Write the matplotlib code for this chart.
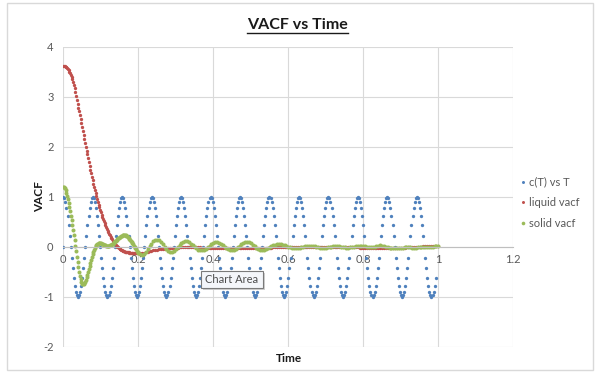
import numpy as np
import matplotlib
matplotlib.use("Agg")
import matplotlib.pyplot as plt
from matplotlib.patches import Rectangle
from matplotlib.lines import Line2D

# c(T) vs T: sampled every ct_step, first row of the sheet is (0, 0)
ct_step = 0.002805
ct_values = [0.0,
    1, 0.975, 0.901, 0.782, 0.623, 0.434, 0.223, 0, -0.223, -0.434, -0.623, -0.782, -0.901, -0.975,
    -1, -0.975, -0.901, -0.782, -0.623, -0.434, -0.223, 0, 0.223, 0.434, 0.623, 0.782, 0.901, 0.975,
    1, 0.975, 0.901, 0.782, 0.623, 0.434, 0.223, 0, -0.223, -0.434, -0.623, -0.782, -0.901, -0.975,
    -1, -0.975, -0.901, -0.782, -0.623, -0.434, -0.223, 0, 0.223, 0.434, 0.623, 0.782, 0.901, 0.975,
    1, 0.975, 0.901, 0.782, 0.623, 0.434, 0.223, 0, -0.223, -0.434, -0.623, -0.782, -0.901, -0.975,
    -1, -0.975, -0.901, -0.782, -0.623, -0.434, -0.223, 0, 0.223, 0.434, 0.623, 0.782, 0.901, 0.975,
    1, 0.975, 0.901, 0.782, 0.623, 0.434, 0.223, 0, -0.223, -0.434, -0.623, -0.782, -0.901, -0.975,
    -1, -0.975, -0.901, -0.782, -0.623, -0.434, -0.223, 0, 0.223, 0.434, 0.623, 0.782, 0.901, 0.975,
    1, 0.975, 0.901, 0.782, 0.623, 0.434, 0.223, 0, -0.223, -0.434, -0.623, -0.782, -0.901, -0.975,
    -1, -0.975, -0.901, -0.782, -0.623, -0.434, -0.223, 0, 0.223, 0.434, 0.623, 0.782, 0.901, 0.975,
    1, 0.975, 0.901, 0.782, 0.623, 0.434, 0.223, 0, -0.223, -0.434, -0.623, -0.782, -0.901, -0.975,
    -1, -0.975, -0.901, -0.782, -0.623, -0.434, -0.223, 0, 0.223, 0.434, 0.623, 0.782, 0.901, 0.975,
    1, 0.975, 0.901, 0.782, 0.623, 0.434, 0.223, 0, -0.223, -0.434, -0.623, -0.782, -0.901, -0.975,
    -1, -0.975, -0.901, -0.782, -0.623, -0.434, -0.223, 0, 0.223, 0.434, 0.623, 0.782, 0.901, 0.975,
    1, 0.975, 0.901, 0.782, 0.623, 0.434, 0.223, 0, -0.223, -0.434, -0.623, -0.782, -0.901, -0.975,
    -1, -0.975, -0.901, -0.782, -0.623, -0.434, -0.223, 0, 0.223, 0.434, 0.623, 0.782, 0.901, 0.975,
    1, 0.975, 0.901, 0.782, 0.623, 0.434, 0.223, 0, -0.223, -0.434, -0.623, -0.782, -0.901, -0.975,
    -1, -0.975, -0.901, -0.782, -0.623, -0.434, -0.223, 0, 0.223, 0.434, 0.623, 0.782, 0.901, 0.975,
    1, 0.975, 0.901, 0.782, 0.623, 0.434, 0.223, 0, -0.223, -0.434, -0.623, -0.782, -0.901, -0.975,
    -1, -0.975, -0.901, -0.782, -0.623, -0.434, -0.223, 0, 0.223, 0.434, 0.623, 0.782, 0.901, 0.975,
    1, 0.975, 0.901, 0.782, 0.623, 0.434, 0.223, 0, -0.223, -0.434, -0.623, -0.782, -0.901, -0.975,
    -1, -0.975, -0.901, -0.782, -0.623, -0.434, -0.223, 0, 0.223, 0.434, 0.623, 0.782, 0.901, 0.975,
    1, 0.975, 0.901, 0.782, 0.623, 0.434, 0.223, 0, -0.223, -0.434, -0.623, -0.782, -0.901, -0.975,
    -1, -0.975, -0.901, -0.782, -0.623, -0.434, -0.223, 0, 0.223, 0.434, 0.623, 0.782, 0.901, 0.975,
    1, 0.975, 0.901, 0.782, 0.623, 0.434, 0.223, 0, -0.223, -0.434, -0.623, -0.782, -0.901, -0.975,
    -1, -0.975, -0.901, -0.782, -0.623,
]

# vacf: dt = 0.002 up to 0.2, then dt = 0.005 up to 1.0
liquid_vacf = [
    3.62, 3.62, 3.61, 3.60, 3.59, 3.58, 3.56, 3.54, 3.50, 3.47,
    3.44, 3.40, 3.35, 3.30, 3.24, 3.17, 3.10, 3.02, 2.94, 2.86,
    2.78, 2.71, 2.63, 2.56, 2.48, 2.40, 2.32, 2.24, 2.16, 2.08,
    2.00, 1.92, 1.85, 1.77, 1.69, 1.62, 1.54, 1.47, 1.40, 1.33,
    1.26, 1.20, 1.13, 1.07, 1.01, 0.96, 0.90, 0.84, 0.79, 0.74,
    0.69, 0.64, 0.60, 0.55, 0.51, 0.47, 0.43, 0.39, 0.36, 0.32,
    0.29, 0.26, 0.23, 0.20, 0.17, 0.15, 0.12, 0.10, 0.08, 0.06,
    0.04, 0.02, 0.00, -0.01, -0.03, -0.04, -0.05, -0.06, -0.07, -0.08,
    -0.09, -0.09, -0.10, -0.10, -0.11, -0.11, -0.11, -0.11, -0.12, -0.12,
    -0.12, -0.12, -0.12, -0.12, -0.13, -0.13, -0.13, -0.13, -0.13, -0.13,
    # t >= 0.2
    -0.13, -0.13, -0.12, -0.12, -0.11, -0.10, -0.09, -0.08, -0.07, -0.07,
    -0.06, -0.05, -0.05, -0.04, -0.04, -0.03, -0.03, -0.03, -0.02, -0.02,
    -0.02, -0.02, -0.01, -0.01, -0.01, -0.01, -0.01, -0.01, -0.01, -0.01,
    -0.01, -0.01, -0.01, -0.01, -0.02, -0.02, -0.02, -0.02, -0.02, -0.02,
    -0.02, -0.02, -0.02, -0.02, -0.02, -0.02, -0.02, -0.02, -0.02, -0.02,
    -0.02, -0.02, -0.02, -0.02, -0.02, -0.02, -0.02, -0.02, -0.02, -0.02,
    -0.02, -0.02, -0.02, -0.02, -0.02, -0.02, -0.02, -0.02, -0.02, -0.02,
    -0.02, -0.02, -0.01, -0.01, -0.01, -0.01, -0.01, -0.01, -0.01, -0.01,
    -0.01, -0.01, -0.01, -0.01, -0.01, -0.01, -0.01, -0.01, 0.00, 0.00,
    0.00, 0.00, 0.00, 0.00, -0.01, -0.01, -0.01, -0.01, -0.01, -0.01,
    -0.01, -0.01, -0.01, -0.01, -0.01, -0.01, -0.01, -0.01, -0.01, -0.01,
    -0.01, -0.01, -0.01, -0.01, -0.01, -0.01, -0.01, -0.01, -0.02, -0.02,
    -0.02, -0.02, -0.02, -0.02, -0.02, -0.02, -0.02, -0.02, -0.02, -0.02,
    -0.02, -0.02, -0.02, -0.02, -0.03, -0.03, -0.03, -0.03, -0.02, -0.02,
    -0.02, -0.02, -0.02, -0.01, -0.01, -0.01, -0.01, -0.01, -0.01, 0.00,
    0.00, 0.00, 0.01, 0.01, 0.01, 0.01, 0.02, 0.02, 0.02, 0.02,
    0.02,
]

solid_vacf = [
    1.20, 1.19, 1.17, 1.13, 1.08, 1.02, 0.95, 0.88, 0.80, 0.71,
    0.62, 0.53, 0.43, 0.33, 0.23, 0.13, 0.02, -0.09, -0.20, -0.31,
    -0.41, -0.50, -0.58, -0.65, -0.70, -0.74, -0.75, -0.75, -0.73, -0.70,
    -0.66, -0.61, -0.56, -0.50, -0.44, -0.38, -0.32, -0.26, -0.20, -0.15,
    -0.10, -0.06, -0.02, 0.01, 0.03, 0.05, 0.06, 0.07, 0.07, 0.07,
    0.07, 0.06, 0.06, 0.05, 0.04, 0.03, 0.03, 0.02, 0.02, 0.02,
    0.02, 0.02, 0.03, 0.03, 0.04, 0.05, 0.06, 0.08, 0.09, 0.11,
    0.12, 0.14, 0.15, 0.17, 0.18, 0.19, 0.20, 0.21, 0.22, 0.23,
    0.23, 0.23, 0.23, 0.23, 0.22, 0.21, 0.20, 0.18, 0.16, 0.14,
    0.12, 0.10, 0.07, 0.05, 0.02, 0.00, -0.03, -0.05, -0.08, -0.10,
    # t >= 0.2
    -0.12, -0.15, -0.16, -0.15, -0.11, -0.05, 0.01, 0.06, 0.11, 0.13,
    0.14, 0.13, 0.10, 0.05, 0.00, -0.05, -0.08, -0.10, -0.10, -0.08,
    -0.05, -0.01, 0.03, 0.07, 0.10, 0.11, 0.11, 0.09, 0.06, 0.03,
    0.00, -0.03, -0.06, -0.07, -0.07, -0.06, -0.04, -0.01, 0.02, 0.05,
    0.07, 0.09, 0.09, 0.08, 0.06, 0.03, 0.00, -0.03, -0.05, -0.07,
    -0.07, -0.06, -0.04, -0.01, 0.02, 0.05, 0.08, 0.10, 0.10, 0.09,
    0.07, 0.04, 0.01, -0.02, -0.04, -0.06, -0.06, -0.06, -0.05, -0.03,
    -0.01, 0.01, 0.03, 0.04, 0.05, 0.05, 0.05, 0.04, 0.03, 0.02,
    0.00, -0.01, -0.02, -0.03, -0.03, -0.03, -0.02, -0.01, 0.00, 0.01,
    0.02, 0.02, 0.02, 0.02, 0.01, 0.00, -0.01, -0.02, -0.02, -0.02,
    -0.02, -0.01, 0.00, 0.00, 0.01, 0.01, 0.01, 0.01, 0.00, -0.01,
    -0.01, -0.02, -0.02, -0.01, -0.01, 0.00, 0.01, 0.01, 0.02, 0.02,
    0.02, 0.01, 0.00, -0.01, -0.01, -0.01, 0.00, 0.01, 0.02, 0.03,
    0.02, 0.01, 0.00, -0.01, -0.02, -0.03, -0.03, -0.03, -0.02, -0.02,
    -0.02, -0.02, -0.01, -0.01, -0.01, -0.01, -0.02, -0.02, -0.02, -0.01,
    -0.01, 0.00, 0.00, 0.00, 0.00, 0.00, 0.00, 0.00, 0.01, 0.01,
    0.01,
]

x_ticks = [0, 0.2, 0.4, 0.6, 0.8, 1, 1.2]
x_tick_labels = ["0", "0.2", "0.4", "0.6", "0.8", "1", "1.2"]
y_ticks = [-2, -1, 0, 1, 2, 3, 4]
y_tick_labels = ["-2", "-1", "0", "1", "2", "3", "4"]
series_names = ["c(T) vs T", "liquid vacf", "solid vacf"]

ct_time = np.concatenate([[0.0], np.arange(len(ct_values) - 1) * ct_step])
vacf_time = np.concatenate([np.arange(100) * 0.002, 0.2 + np.arange(161) * 0.005])

plt.rcParams["font.family"] = ["Lato", "DejaVu Sans"]

W, H = 600, 376
fig = plt.figure(figsize=(6, 3.76), dpi=100)
fig.patch.set_facecolor("white")
ax = fig.add_axes([63.3 / W, 1 - 346.7 / H, 450 / W, 300 / H])

ax.plot(ct_time, ct_values, "o", ms=2.4, mew=0, color="#4F81BD", label=series_names[0])
ax.plot(vacf_time, liquid_vacf, "o", ms=2.4, mew=0, color="#C0504D", label=series_names[1])
ax.plot(vacf_time, solid_vacf, "o", ms=2.9, mew=0, color="#9BBB59", label=series_names[2])

ax.set_xlim(0, 1.2)
ax.set_ylim(-2, 4)
ax.set_xticks(x_ticks)
ax.set_xticklabels(x_tick_labels)
ax.set_yticks(y_ticks)
ax.set_yticklabels(y_tick_labels)
ax.grid(True, color="#d9d9d9", lw=0.8)
ax.set_axisbelow(True)
for s in ["top", "right", "left"]:
    ax.spines[s].set_visible(False)
ax.spines["bottom"].set_position(("data", 0))
ax.spines["bottom"].set_color("#bfbfbf")
ax.spines["bottom"].set_linewidth(0.8)
ax.tick_params(length=0, labelsize=8, labelcolor="#595959")
ax.tick_params(axis="x", pad=5.5)
ax.tick_params(axis="y", pad=7)

ax.legend(loc="center left", bbox_to_anchor=(511 / W, 1 - 202.7 / H),
          bbox_transform=fig.transFigure, frameon=False, fontsize=8,
          handlelength=0.3, handletextpad=0.45, labelspacing=0.85,
          markerscale=0.9, labelcolor="#595959")

title = fig.text(297.5 / W, 1 - 29.3 / H, "VACF vs Time", ha="center", va="baseline",
                 fontsize=11.5, fontweight="bold", color="#1a1a1a")
fig.text(289 / W, 1 - 358 / H, "Time", ha="center", va="center",
         fontsize=8.5, fontweight="bold", color="#1a1a1a")
fig.text(40 / W, 1 - 197 / H, "VACF", ha="center", va="center", rotation=90,
         fontsize=8.5, fontweight="bold", color="#1a1a1a")

# chart border
fig.patches.append(Rectangle((7.3 / W, 1 - 370 / H), 585.5 / W, 366.7 / H, fill=False,
                             ec="#d9d9d9", lw=1, transform=fig.transFigure, figure=fig))

# "Chart Area" tooltip
fig.patches.append(Rectangle((202.7 / W, 1 - 290.3 / H), 62.6 / W, 17.3 / H,
                             fc="#cfcfcf", ec="none", transform=fig.transFigure,
                             figure=fig, zorder=5))
fig.patches.append(Rectangle((200.7 / W, 1 - 288.3 / H), 62.6 / W, 17.3 / H,
                             fc="#f4f6fa", ec="#7a7a7a", lw=0.8,
                             transform=fig.transFigure, figure=fig, zorder=6))
fig.text(232 / W, 1 - 279.6 / H, "Chart Area", ha="center", va="center",
         fontsize=8, color="#4d4d4d", zorder=7)

# underline the title
fig.canvas.draw()
bb = title.get_window_extent()
uy = bb.y0 - 0.5
fig.add_artist(Line2D([bb.x0 / W, bb.x1 / W], [uy / H, uy / H], color="#1a1a1a",
                      lw=1.0, transform=fig.transFigure))

fig.savefig("out.png", dpi=100)
